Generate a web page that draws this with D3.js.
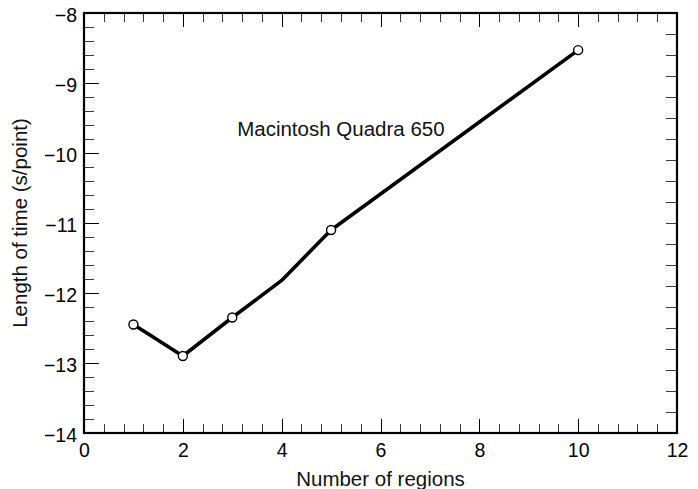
<!DOCTYPE html>
<html>
<head>
<meta charset="utf-8">
<script src="https://cdn.jsdelivr.net/npm/d3@7"></script>
<style>
  html, body { margin: 0; padding: 0; background: #fff; }
  svg { display: block; font-family: "Liberation Sans", Arial, Helvetica, sans-serif; }
</style>
</head>
<body>
<svg id="chart" width="698" height="489"></svg>
<script>
// Timing per point versus number of regions
const regions = [1, 2, 3, 4, 5, 10];
const timePerPoint = [-12.45, -12.9, -12.35, -11.82, -11.1, -8.53];
const markedRegions = [1, 2, 3, 5, 10];

const xTickLabels = [0, 2, 4, 6, 8, 10, 12];
const yTickLabels = [-14, -13, -12, -11, -10, -9, -8];
const annotation = "Macintosh Quadra 650";

const W = 698, H = 489;
const margin = { left: 84, right: 21, top: 13, bottom: 56 };

const svg = d3.select("#chart");
const x = d3.scaleLinear().domain([0, 12]).range([margin.left, W - margin.right]);
const y = d3.scaleLinear().domain([-14, -8]).range([H - margin.bottom, margin.top]);

const fmt = d => (d < 0 ? "\u2212" + Math.abs(d) : String(d));

// minor tick positions
const xMinor = d3.range(0, 61).map(i => i * 0.4).filter(v => v > 0 && v < 12 && Math.abs(v / 2 - Math.round(v / 2)) > 1e-6);
const yMinor = d3.range(1, 30).map(i => -14 + i * 0.2).filter(v => Math.abs(v - Math.round(v)) > 1e-6);
const yRight = d3.range(1, 20).map(i => -8 - i * 0.3);

function axisGroup(axis, transform) {
  const g = svg.append("g").attr("transform", transform).call(axis);
  g.select(".domain").remove();
  g.selectAll("line").attr("shape-rendering", "crispEdges");
  return g;
}

const minorColor = "#3a3a3a";

// bottom axis
const bottomMinor = axisGroup(d3.axisBottom(x).tickValues(xMinor).tickSize(-9).tickFormat(""),
  `translate(0,${y(-14)})`);
bottomMinor.selectAll("line").attr("stroke", minorColor);
const bottomMajor = axisGroup(d3.axisBottom(x).tickValues(xTickLabels).tickSize(-14).tickPadding(0).tickFormat(fmt),
  `translate(0,${y(-14)})`);
bottomMajor.selectAll("line").attr("stroke", "#000");
bottomMajor.selectAll("text")
  .attr("y", 24).attr("dy", null)
  .attr("font-size", 19.5).attr("fill", "#000")
  .attr("font-family", "Liberation Sans, Arial, sans-serif");

// top axis
const topMinor = axisGroup(d3.axisTop(x).tickValues(xMinor).tickSize(-9).tickFormat(""),
  `translate(0,${y(-8)})`);
topMinor.selectAll("line").attr("stroke", minorColor);
const topMajor = axisGroup(d3.axisTop(x).tickValues(xTickLabels).tickSize(-14).tickFormat(""),
  `translate(0,${y(-8)})`);
topMajor.selectAll("line").attr("stroke", "#000");

// left axis
const leftMinor = axisGroup(d3.axisLeft(y).tickValues(yMinor).tickSize(-10).tickFormat(""),
  `translate(${x(0)},0)`);
leftMinor.selectAll("line").attr("stroke", minorColor);
const leftMajor = axisGroup(d3.axisLeft(y).tickValues(yTickLabels).tickSize(-15).tickFormat(fmt),
  `translate(${x(0)},0)`);
leftMajor.selectAll("line").attr("stroke", "#000");
leftMajor.selectAll("text")
  .attr("x", -7).attr("dy", null).attr("y", 8)
  .attr("text-anchor", "end")
  .attr("font-size", 19.5).attr("fill", "#000")
  .attr("font-family", "Liberation Sans, Arial, sans-serif");

// right axis
const rightAx = axisGroup(d3.axisRight(y).tickValues(yRight).tickSize(-11).tickFormat(""),
  `translate(${x(12)},0)`);
rightAx.selectAll("line").attr("stroke", minorColor);

// frame
svg.append("rect")
  .attr("x", x(0)).attr("y", y(-8))
  .attr("width", x(12) - x(0)).attr("height", y(-14) - y(-8))
  .attr("fill", "none").attr("stroke", "#000").attr("stroke-width", 2.2);

// data line
const pts = regions.map((r, i) => [r, timePerPoint[i]]);
svg.append("path")
  .datum(pts)
  .attr("fill", "none")
  .attr("stroke", "#000")
  .attr("stroke-width", 3.6)
  .attr("stroke-linejoin", "round")
  .attr("d", d3.line().x(d => x(d[0])).y(d => y(d[1])));

// markers
svg.append("g").selectAll("circle")
  .data(pts.filter(d => markedRegions.includes(d[0])))
  .join("circle")
  .attr("cx", d => x(d[0]))
  .attr("cy", d => y(d[1]))
  .attr("r", 4.5)
  .attr("fill", "#fff")
  .attr("stroke", "#000")
  .attr("stroke-width", 1.4);

// annotation
svg.append("text")
  .attr("x", x(3.1)).attr("y", y(-9.75))
  .attr("font-size", 20.5).attr("fill", "#111")
  .text(annotation);

// axis titles
svg.append("text")
  .attr("x", (x(0) + x(12)) / 2).attr("y", 485.5)
  .attr("text-anchor", "middle")
  .attr("font-size", 20.5).attr("fill", "#111")
  .text("Number of regions");

svg.append("text")
  .attr("transform", `translate(27,${(y(-8) + y(-14)) / 2}) rotate(-90)`)
  .attr("text-anchor", "middle")
  .attr("font-size", 20.5).attr("fill", "#111")
  .text("Length of time (s/point)");
</script>
</body>
</html>
